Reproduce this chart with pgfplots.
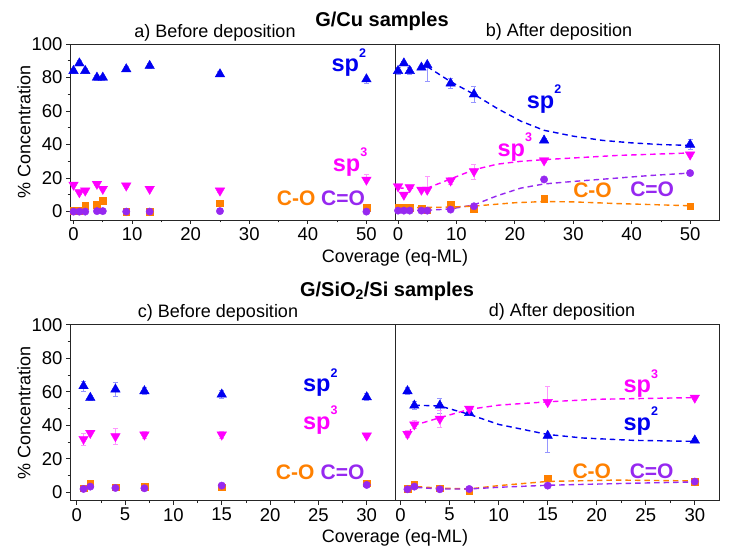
\documentclass[border=0pt]{standalone}
\usepackage{fontspec}
\setmainfont{Liberation Sans}
\usepackage{pgfplots}
\pgfplotsset{compat=1.18}

\definecolor{cblue}{RGB}{0,0,240}
\definecolor{cmag}{RGB}{255,0,255}
\definecolor{corange}{RGB}{255,128,0}
\definecolor{cpurple}{RGB}{150,40,240}
\definecolor{lblue}{RGB}{150,150,255}
\definecolor{lmag}{RGB}{255,150,255}

\newcommand{\spl}[1]{sp\raisebox{0.62em}{\fontsize{12.5}{12.5}\selectfont #1}}

\tikzset{lab/.style={font=\bfseries\fontsize{23.5}{23.5}\selectfont, inner sep=0pt},
         labs/.style={font=\bfseries\fontsize{21}{21}\selectfont, inner sep=0pt}}

\pgfplotsset{
  panel/.style={scale only axis, height=176pt, ymin=-5, ymax=100,
    ytick={0,20,...,100}, minor y tick num=1, minor x tick num=1,
    tick align=outside, xtick pos=bottom, ytick pos=left,
    major tick length=4pt, minor tick length=2.5pt,
    axis line style={line width=0.8pt, black!85},
    every tick/.style={line width=0.8pt, black!85},
    tick label style={font=\fontsize{18.5}{18.5}\selectfont},
    /pgf/number format/assume math mode=true,
    clip=false, anchor=south west},
  sptwo/.style={only marks, mark=triangle*, mark size=5.5pt, color=cblue,
    error bars/.cd, y dir=both, y explicit,
    error bar style={color=lblue, line width=0.6pt},
    error mark options={rotate=90, mark size=2.5pt, color=lblue, line width=0.6pt}},
  spthree/.style={only marks, mark=triangle*, mark size=5.5pt, color=cmag, mark options={rotate=180},
    error bars/.cd, y dir=both, y explicit,
    error bar style={color=lmag, line width=0.6pt},
    error mark options={rotate=90, mark size=2.5pt, color=lmag, line width=0.6pt}},
  co/.style={only marks, mark=square*, mark size=3.3pt, color=corange},
  cdo/.style={only marks, mark=*, mark size=3.7pt, color=cpurple},
  fitline/.style={no marks, line width=1.4pt, dash pattern=on 5.5pt off 4pt},
}

\begin{document}
\begin{tikzpicture}
\path[use as bounding box] (0pt,0pt) rectangle (730pt,553pt);

% ---------- a) G/Cu before ----------
\begin{axis}[panel, at={(70pt,333pt)}, width=325.7pt, xmin=-0.6, xmax=55, xtick={0,10,...,50}]
\addplot[sptwo] coordinates {(0,84) +- (0,1.5) (1,88.5) +- (0,1.5) (2,84) +- (0,1.5) (4,80) +- (0,1.5) (5,80) +- (0,1.5) (9,85) +- (0,1.5) (13,87) +- (0,1.5) (25,82) +- (0,1.5) (50,79) += (0,0.5) -= (0,2.5)};
\addplot[spthree] coordinates {(0,16) +- (0,1) (1,11.5) +- (0,1) (2,12.5) +- (0,1) (4,16.5) +- (0,1) (5,13.5) +- (0,1) (9,15.5) +- (0,1) (13,13.5) +- (0,1) (25,12.5) +- (0,1) (50,19) += (0,3.5) -= (0,0.5)};
\addplot[co] coordinates {(0,0.5) (1,0.5) (2,3.5) (4,4) (5,6.5) (9,0) (13,0) (25,5) (50,2.2)};
\addplot[cdo] coordinates {(0,0) (1,0) (2,0) (4,0.3) (5,0.3) (9,0) (13,0) (25,0.3) (50,0)};
\node[lab, text=cblue] at (axis cs:47,89) {\spl{2}};
\node[lab, text=cmag] at (axis cs:47.2,29.5) {\spl{3}};
\node[labs, text=corange] at (axis cs:38,8) {C-O};
\node[labs, text=cpurple] at (axis cs:46,8) {C=O};
\end{axis}

% ---------- b) G/Cu after ----------
\begin{axis}[panel, at={(395.7pt,333pt)}, width=323.6pt, xmin=-0.4, xmax=55, xtick={0,10,...,50}, ytick=\empty, minor ytick=\empty]
\addplot[fitline, cblue] coordinates {(5,86.5) (9,77.5) (13,70) (17,61.5) (21,54) (25,48.5) (30,45) (35,42.5) (40,41) (45,40) (50,39.5)};
\addplot[fitline, cmag] coordinates {(0,14) (5,14) (9,19.5) (13,25) (17,28.3) (21,30) (25,31) (30,32) (37.5,33.5) (50,35)};
\addplot[fitline, cpurple] coordinates {(0,0.5) (5,0.8) (9,1.6) (13,4) (17,9.5) (21,14) (25,16.5) (30,18) (37.5,20) (43,21.5) (50,23)};
\addplot[fitline, corange] coordinates {(0,2.2) (9,2.7) (13,3.3) (20,5.3) (25,6) (30,5.8) (37.5,4.8) (50,3.5)};
\addplot[sptwo] coordinates {(0,84) +- (0,2) (1,88.5) +- (0,1) (2,84) +- (0,2) (4,86) +- (0,1) (5,87.5) += (0,0.5) -= (0,10) (9,76.5) +- (0,3) (13,70) +- (0,5) (25,42.5) +- (0,1) (50,40) +- (0,3)};
\addplot[spthree] coordinates {(0,15) +- (0,1) (1,10) +- (0,1) (2,14.5) +- (0,1) (4,13) +- (0,1) (5,13) += (0,8) -= (0,0.5) (9,18.5) +- (0,2) (13,24) +- (0,4.5) (25,30.5) +- (0,1) (50,34) +- (0,1)};
\addplot[co] coordinates {(0,2.6) (1,2.2) (2,2.2) (4,2) (5,0.8) (9,4.2) (13,1.6) (25,7.6) (50,3.2)};
\addplot[cdo] coordinates {(0,0.6) (1,0.6) (2,0.6) (4,0.6) (5,0.6) (9,1.2) (13,3.2) (25,19.2) (50,23)};
\node[lab, text=cblue] at (axis cs:25,67) {\spl{2}};
\node[lab, text=cmag] at (axis cs:20,38.5) {\spl{3}};
\node[labs, text=corange] at (axis cs:33.3,12.6) {C-O};
\node[labs, text=cpurple] at (axis cs:43.5,13.6) {C=O};
\end{axis}

% ---------- c) G/SiO2/Si before ----------
\begin{axis}[panel, at={(70pt,52.3pt)}, width=325.7pt, xmin=-0.7, xmax=33, xtick={0,5,...,30}]
\addplot[sptwo] coordinates {(0.7,63.4) +- (0,3) (1.4,56.4) +- (0,1.5) (4,61.4) +- (0,4) (7,60.4) +- (0,2) (15,58.4) +- (0,2.5) (30,56.8) +- (0,2)};
\addplot[spthree] coordinates {(0.7,31.8) +- (0,3.5) (1.4,35.4) +- (0,1) (4,33.4) +- (0,5) (7,34.4) +- (0,2) (15,34.4) +- (0,2) (30,33.8) +- (0,1)};
\addplot[co] coordinates {(0.7,2.4) (1.4,5) (4,3) (7,3.4) (15,3) (30,5.4)};
\addplot[cdo] coordinates {(0.7,2) (1.4,3.4) (4,2.6) (7,2.4) (15,4) (30,4.4)};
\node[lab, text=cblue] at (axis cs:25.2,65.5) {\spl{2}};
\node[lab, text=cmag] at (axis cs:25.2,43) {\spl{3}};
\node[labs, text=corange] at (axis cs:22.6,12.2) {C-O};
\node[labs, text=cpurple] at (axis cs:27.5,12.2) {C=O};
\end{axis}

% ---------- d) G/SiO2/Si after ----------
\begin{axis}[panel, at={(395.7pt,52.3pt)}, width=323.6pt, xmin=-0.5, xmax=32.5, xtick={0,5,...,30}, ytick=\empty, minor ytick=\empty]
\addplot[fitline, cblue] coordinates {(1.4,52) (4,51.5) (7,46.5) (10,40.5) (15,34.5) (18.6,32.4) (23.7,31) (30,30.4)};
\addplot[fitline, cmag] coordinates {(0.7,35) (1.4,40) (4,44.5) (7,49.5) (10,52) (15,54) (20,55.5) (25,56) (30,56.5)};
\addplot[fitline, corange] coordinates {(0.7,2.5) (1.4,3.5) (4,2.5) (7,2) (10,4) (15,6.5) (22,7.3) (30,6.8)};
\addplot[fitline, cpurple] coordinates {(0.7,2) (1.4,3) (4,2) (7,2) (10,3) (15,4.2) (22,5.2) (30,6.2)};
\addplot[sptwo] coordinates {(0.7,60.4) +- (0,2) (1.4,51.8) +- (0,2.5) (4,51.8) +- (0,4.5) (7,47.4) +- (0,1) (15,33.8) += (0,1) -= (0,10) (30,31) +- (0,1)};
\addplot[spthree] coordinates {(0.7,34.8) +- (0,2) (1.4,40.4) +- (0,2.5) (4,43.8) +- (0,5) (7,49.8) +- (0,1) (15,53.8) += (0,9.6) -= (0,1) (30,56.4) +- (0,1)};
\addplot[co] coordinates {(0.7,2) (1.4,4.4) (4,2.4) (7,1) (15,8.4) (30,6.4)};
\addplot[cdo] coordinates {(0.7,1.8) (1.4,3.4) (4,1.8) (7,2) (15,4) (30,6.4)};
\node[lab, text=cmag] at (axis cs:24.5,65) {\spl{3}};
\node[lab, text=cblue] at (axis cs:24.5,42.5) {\spl{2}};
\node[labs, text=corange] at (axis cs:19.5,12.8) {C-O};
\node[labs, text=cpurple] at (axis cs:25.6,12.8) {C=O};
\end{axis}

% ---------- titles and labels ----------
\node[font=\bfseries\fontsize{20}{20}\selectfont] at (382pt,531.5pt) {G/Cu samples};
\node[font=\fontsize{18}{18}\selectfont] at (215pt,520pt) {a) Before deposition};
\node[font=\fontsize{18}{18}\selectfont] at (559pt,521pt) {b) After deposition};
\node[font=\bfseries\fontsize{20}{20}\selectfont] at (387pt,261.5pt) {G/SiO\textsubscript{2}/Si samples};
\node[font=\fontsize{18}{18}\selectfont] at (218pt,240pt) {c) Before deposition};
\node[font=\fontsize{18}{18}\selectfont] at (562pt,241pt) {d) After deposition};
\node[font=\fontsize{18}{18}\selectfont] at (395pt,295pt) {Coverage (eq-ML)};
\node[font=\fontsize{18}{18}\selectfont] at (395pt,15pt) {Coverage (eq-ML)};
\node[font=\fontsize{18}{18}\selectfont, rotate=90] at (24pt,421pt) {\% Concentration};
\node[font=\fontsize{18}{18}\selectfont, rotate=90] at (24pt,140pt) {\% Concentration};
\end{tikzpicture}
\end{document}
